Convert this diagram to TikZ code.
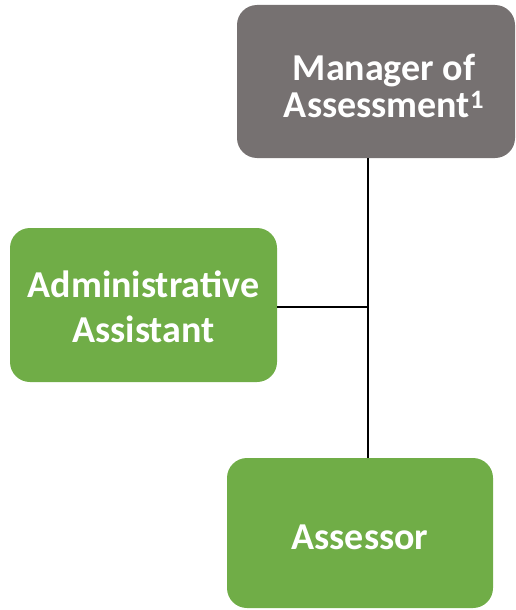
\documentclass[tikz,border=0pt]{standalone}
\usepackage{fontspec}
\setmainfont{Carlito}
\definecolor{mgray}{HTML}{767171}
\definecolor{mgreen}{HTML}{70AD47}
\tikzset{
  box/.style={rounded corners=20pt, draw=none, inner sep=0pt, anchor=north west},
  lbl/.style={text=white, font=\bfseries\fontsize{38}{45}\selectfont, align=center, inner sep=0pt},
  conn/.style={draw=black, line width=2pt}
}
\begin{document}
\begin{tikzpicture}[x=1pt,y=-1pt]
\useasboundingbox (0,0) rectangle (516,610);
% Manager box
\fill[mgray, rounded corners=20pt] (237,5) rectangle (515,158);
\node[box, minimum width=278pt, minimum height=153pt] (mgr) at (237,5) {};
\node[lbl, font=\bfseries\fontsize{38}{37}\selectfont] (mgrt) at (384,86) {Manager of\\Assessment\textsuperscript{1}};
% Admin box
\fill[mgreen, rounded corners=20pt] (10,228) rectangle (277,382);
\node[box, minimum width=267pt, minimum height=154pt] (adm) at (10,228) {};
\node[lbl] (admt) at (143.5,307) {Administrative\\Assistant};
% Assessor box
\fill[mgreen, rounded corners=20pt] (227,458) rectangle (493,608);
\node[box, minimum width=266pt, minimum height=150pt] (ass) at (227,458) {};
\node[lbl] (asst) at (360,537) {Assessor};
% connectors
\coordinate (j) at (368,307);
\draw[conn] (mgr.south -| j) -- (ass.north -| j);
\draw[conn] (adm.east |- j) -- (j);
\end{tikzpicture}
\end{document}
